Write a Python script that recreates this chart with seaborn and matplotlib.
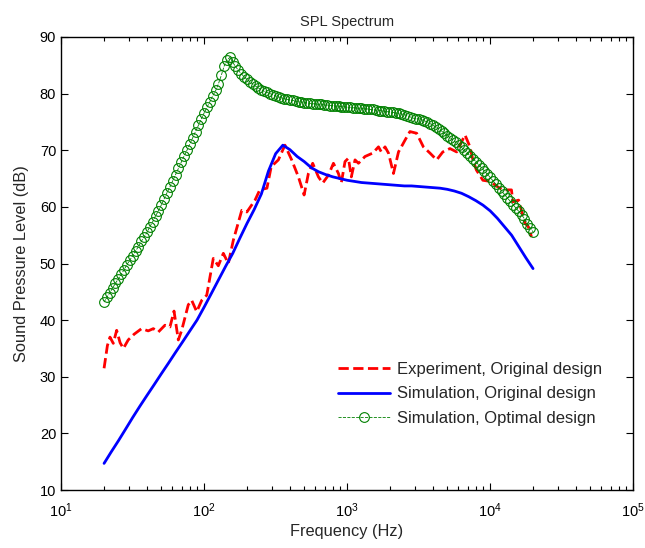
import numpy as np
import pandas as pd
from matplotlib import pyplot as plt
import seaborn as sns

# experiment, original design (red dashed)
exp_freq = [20.0, 21.1, 22.0, 23.2, 24.5, 25.9, 27.3, 29.5, 32.4, 36.6, 40.7, 44.2, 47.9, 53.3,
            57.8, 61.7, 66.1, 69.8, 77.6, 82.0, 88.9, 96.4, 104.5, 116.1, 125.9, 136.5, 147.9,
            160.3, 183.7, 199.5, 227.5, 245.5, 275.4, 295.1, 331.1, 368.1, 410.2, 457.1, 501.2,
            537.0, 575.4, 631.0, 676.1, 741.3, 803.5, 871.0, 912.0, 968.3, 1023, 1072, 1138,
            1202, 1337, 1514, 1660, 1738, 1845, 1950, 2113, 2291, 2399, 2547, 2754, 3069, 3420,
            3802, 4236, 4677, 5248, 5848, 6683, 7244, 7586, 8035, 8913, 10000, 11220, 12303,
            14125, 14454, 15849, 16596, 17579, 18535, 19500]
exp_spl = [31.5, 35.5, 37.0, 35.9, 38.2, 36.0, 35.0, 36.5, 37.5, 38.5, 38.1, 38.5, 37.9, 39.1,
           38.8, 41.6, 36.5, 38.2, 42.7, 43.5, 41.5, 43.5, 44.4, 50.9, 49.6, 51.8, 50.0,
           54.1, 59.4, 59.1, 61.2, 63.0, 63.3, 67.1, 68.3, 70.9, 68.3, 65.3, 62.1,
           65.9, 67.7, 65.3, 64.2, 65.6, 67.7, 65.9, 64.2, 68.0, 68.6, 65.3, 68.3,
           67.7, 68.9, 69.5, 70.6, 69.7, 70.6, 69.5, 65.9, 69.7, 70.6, 71.8, 73.3, 73.0, 70.6,
           69.5, 68.3, 69.7, 70.3, 69.7, 72.7, 70.6, 68.3, 66.5, 64.7, 64.5, 63.6, 63.0,
           63.0, 60.9, 61.2, 59.4, 57.1, 56.5, 54.7]

# simulation, original design (blue solid)
sim_freq = [20, 22.4, 25.2, 28.2, 31.7, 35.6, 39.9, 44.8, 50.2, 56.4, 63.2, 71.0, 79.6, 89.3,
            100.2, 112.5, 126.2, 141.6, 158.9, 178.3, 200, 224, 252, 282, 317, 356, 399, 448,
            502, 564, 632, 710, 796, 893, 1002, 1125, 1262, 1416, 1589, 1783, 2000, 2244, 2518,
            2825, 3170, 3557, 3991, 4477, 5024, 5637, 6325, 7096, 7962, 8934, 10024, 11247,
            12619, 14159, 15887, 17825, 20000]
sim_spl = [14.7, 16.7, 18.7, 20.7, 22.8, 24.8, 26.7, 28.6, 30.5, 32.4, 34.3, 36.2, 38.1, 40.0,
           42.3, 44.7, 47.1, 49.5, 51.8, 54.5, 57.1, 59.5, 62.3, 66.3, 69.4, 70.9, 70.1, 68.9,
           68.0, 66.9, 66.2, 65.7, 65.3, 65.0, 64.7, 64.5, 64.3, 64.2, 64.1, 64.0, 63.9, 63.8,
           63.7, 63.7, 63.6, 63.5, 63.4, 63.3, 63.1, 62.8, 62.4, 61.8, 61.1, 60.3, 59.3, 58.0,
           56.5, 55.0, 53.0, 51.0, 49.1]

# simulation, optimal design (green circles)
opt_freq = [20.0, 20.9, 21.9, 23.0, 24.0, 25.2, 26.4, 27.6, 28.9, 30.3, 31.7, 33.2, 34.8, 36.4,
            38.1, 39.9, 41.8, 43.8, 45.8, 48.0, 50.2, 52.6, 55.1, 57.7, 60.4, 63.2, 66.2, 69.3,
            72.6, 76.0, 79.6, 83.4, 87.3, 91.4, 95.7, 100.2, 105, 110, 115, 121, 126, 132, 138,
            145, 152, 159, 166, 174, 182, 191,
            200, 209, 219, 230, 240, 252, 264, 276, 289, 303, 317, 332, 348, 364, 381, 399, 418,
            438, 458, 480, 502, 526, 551, 577, 604, 632, 662, 693, 726, 760, 796, 834, 873, 914,
            957, 1002, 1050, 1099, 1151, 1205, 1262, 1321, 1384, 1449, 1517, 1589, 1664, 1742,
            1824, 1910,
            2000, 2094, 2193, 2296, 2404, 2518, 2636, 2761, 2891, 3027, 3170, 3319, 3476, 3639,
            3811, 3991, 4179, 4376, 4582, 4798, 5024, 5261, 5509, 5768, 6040, 6325, 6623, 6935,
            7262, 7604, 7962, 8337, 8730, 9141, 9572, 10024, 10496, 10990, 11508, 12050, 12619,
            13213, 13836, 14488, 15171, 15887, 16635, 17419, 18240, 19099, 20000]
opt_spl = [43.2, 44.0, 44.8, 45.7, 46.5, 47.3, 48.1, 48.9, 49.8, 50.6, 51.4, 52.2, 53.0, 53.9,
           54.7, 55.5, 56.5, 57.4, 58.4, 59.3, 60.3, 61.4, 62.5, 63.5, 64.6, 65.7, 66.8, 67.9,
           69.0, 70.0, 71.1, 72.2, 73.3, 74.4, 75.5, 76.6, 77.6, 78.6, 79.6, 80.6, 81.7, 83.2,
           84.8, 86.0, 86.4, 85.5, 84.8, 84.1, 83.5, 83.0,
           82.5, 82.1, 81.7, 81.3, 81.0, 80.7, 80.4, 80.2, 80.0, 79.8, 79.6, 79.4, 79.3, 79.1,
           79.0, 78.9, 78.8, 78.7, 78.6, 78.5, 78.4, 78.4, 78.3, 78.2, 78.2, 78.1, 78.1, 78.0,
           78.0, 77.9, 77.9, 77.8, 77.8, 77.7, 77.7, 77.6, 77.6, 77.5, 77.5, 77.4, 77.4, 77.3,
           77.3, 77.2, 77.2, 77.1, 77.0, 77.0, 76.9, 76.8,
           76.8, 76.7, 76.6, 76.5, 76.4, 76.3, 76.1, 75.9, 75.7, 75.5, 75.6, 75.4, 75.2, 75.0,
           74.7, 74.4, 74.1, 73.8, 73.4, 73.0, 72.6, 72.2, 71.8, 71.4, 71.0, 70.5, 70.0, 69.5,
           69.0, 68.5, 68.0, 67.4, 66.9, 66.3, 65.8, 65.2, 64.6, 64.0, 63.4, 62.8, 62.2, 61.6,
           61.0, 60.4, 59.8, 59.2, 58.6, 57.9, 57.0, 56.3, 55.6]

sns.set_theme(style='ticks')
plt.rcParams['font.family'] = ['Liberation Sans', 'DejaVu Sans']

fig = plt.figure(figsize=(6.45, 5.48), dpi=100)
ax = fig.add_axes([0.0946, 0.1058, 0.8868, 0.8267])

sns.lineplot(x=exp_freq, y=exp_spl, ax=ax, color='#ff0000', linestyle='--', lw=2,
             label='Experiment, Original design')
sns.lineplot(x=sim_freq, y=sim_spl, ax=ax, color='#0000ff', lw=2,
             label='Simulation, Original design')
sns.lineplot(x=opt_freq, y=opt_spl, ax=ax, color='#008000', linestyle='--', lw=0.6,
             marker='o', markersize=7, markerfacecolor='none', markeredgecolor='#008000',
             markeredgewidth=0.8, label='Simulation, Optimal design')

ax.set_xscale('log')
ax.set_xlim(10, 1e5)
ax.set_ylim(10, 90)
ax.set_yticks(range(10, 91, 10))
ax.tick_params(direction='in', which='both', top=True, right=True, labelsize=10.5,
               colors='black', width=0.8)
ax.tick_params(which='major', length=5)
ax.tick_params(which='minor', length=3)
ax.tick_params(axis='x', which='both', pad=8)
for s in ax.spines.values():
    s.set_color('black')
    s.set_linewidth(1)

ax.set_title('SPL Spectrum', fontsize=10.5, pad=8)
ax.set_xlabel('Frequency (Hz)', fontsize=11.8, labelpad=3)
ax.set_ylabel('Sound Pressure Level (dB)', fontsize=11.8, labelpad=8)

ax.legend(loc='center left', bbox_to_anchor=(0.484, 0.212), frameon=False, fontsize=12,
          handlelength=3.1, handletextpad=0.42, labelspacing=0.55,
          borderaxespad=0, borderpad=0)

fig.savefig('out.png', dpi=100)
